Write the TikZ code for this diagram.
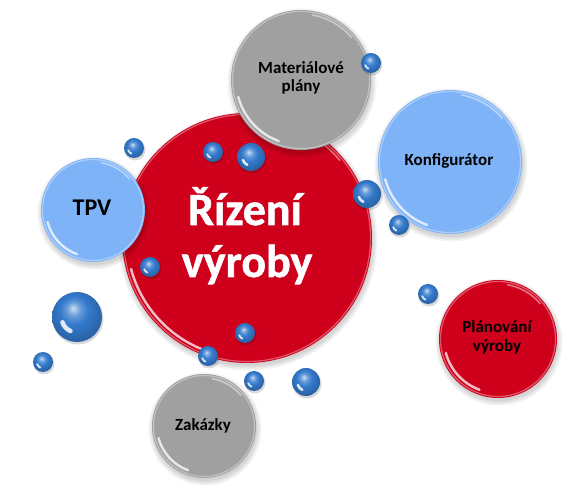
\documentclass[tikz,border=0pt]{standalone}
\usepackage{fontspec}
\setmainfont{Carlito}
\newfontfamily\heavyfont{Carlito}[BoldFeatures={FakeBold=1.2}]
\definecolor{mainred}{RGB}{206,0,28}
\definecolor{bubgray}{RGB}{160,160,160}
\definecolor{bubblue}{RGB}{126,179,247}
\definecolor{ballblue}{RGB}{52,122,205}
\pgfdeclareradialshading{beadshade}{\pgfpoint{-4bp}{9bp}}{%
  color(0bp)=(ballblue!25!white); color(7bp)=(ballblue!75!white); color(14bp)=(ballblue);
  color(24bp)=(ballblue!85!black); color(50bp)=(ballblue!55!black)}
\newcommand{\bigbub}[4]{%
  \foreach \k in {0,1.5,3,4.5}{\fill[black,opacity=.045] (#2) ++(1,-3) circle[radius=#3pt+\k pt];}
  \node[bubble, fill=#4, minimum size=2*#3pt] (#1) at (#2) {};
  \draw[white,opacity=.35,line width=1.2pt] (#1.center) circle[radius=#3pt-1.5pt];
  \draw[white,opacity=.75,line width=2.4pt,line cap=round] (#1.center) ++(195:#3pt-5pt) arc[start angle=195,end angle=250,radius=#3pt-5pt];
  \draw[white,opacity=.45,line width=1.6pt,line cap=round] (#1.center) ++(40:#3pt-4pt) arc[start angle=40,end angle=80,radius=#3pt-4pt];
}
\newcommand{\myball}[3]{%
  \fill[black,opacity=.15] (#2) ++(1,-2) circle[radius=#3pt+0.5pt];
  \node[bead, minimum size=2*#3pt] (#1) at (#2) {};
  \draw[white,opacity=.85,line width=0.18*#3pt,line cap=round] (#1.center) ++(200:0.62*#3pt) arc[start angle=200,end angle=245,radius=0.62*#3pt];
}
\tikzset{
  bubble/.style={circle, inner sep=0pt, draw=none},
  bead/.style={circle, inner sep=0pt, shading=beadshade},
  lbl/.style={font=\fontsize{17}{19}\selectfont\bfseries, text=black, inner sep=0pt, anchor=base},
  mainlbl/.style={font=\heavyfont\fontsize{46}{52}\selectfont\bfseries, text=white, inner sep=0pt, anchor=base},
}
\begin{document}
\begin{tikzpicture}[x=1pt,y=1pt]
\fill[white] (0,0) rectangle (570,489);
\useasboundingbox (0,0) rectangle (570,489);
% big bubbles
\bigbub{main}{247,251}{125}{mainred}
\bigbub{tpv}{93,279}{52}{bubblue}
\bigbub{mat}{301,409}{70}{bubgray}
\bigbub{konf}{450,327}{72}{bubblue}
\bigbub{plan}{498,150}{59}{mainred}
\bigbub{zak}{204,63}{52}{bubgray}
% labels
\node[mainlbl] (mainA) at (245,264) {Řízení};
\node[mainlbl] (mainB) at (247,212) {výroby};
\node[lbl, font=\fontsize{24}{26}\selectfont\bfseries] (tpvL) at (92,273) {TPV};
\node[lbl] (matA) at (301,415) {Materiálové};
\node[lbl] (matB) at (301,397) {plány};
\node[lbl] (konfL) at (449,323) {Konfigurátor};
\node[lbl] (planA) at (497,156) {Plánování};
\node[lbl] (planB) at (497,137) {výroby};
\node[lbl] (zakL) at (203,58) {Zakázky};
% small balls
\myball{b1}{134,341}{10}
\myball{b2}{213,337}{10}
\myball{b3}{251,332}{14}
\myball{b4}{367,295}{14}
\myball{b5}{399,264}{10}
\myball{b6}{371,426}{10}
\myball{b7}{150,222}{10}
\myball{b8}{245,156}{10}
\myball{b9}{208,133}{10}
\myball{b10}{77,172}{25}
\myball{b11}{43,127}{10}
\myball{b12}{254,108}{10}
\myball{b13}{306,107}{14}
\myball{b14}{428,195}{10}
\end{tikzpicture}
\end{document}
